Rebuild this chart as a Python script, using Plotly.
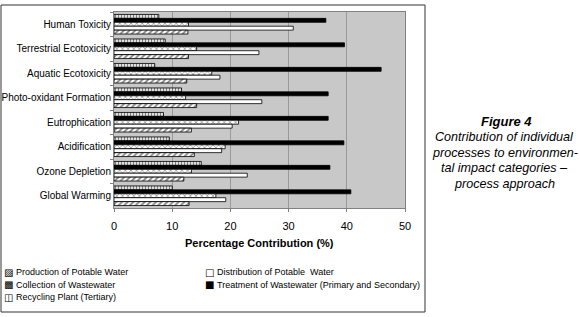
import plotly.graph_objects as go

categories = ["Human Toxicity", "Terrestrial Ecotoxicity", "Aquatic Ecotoxicity",
              "Photo-oxidant Formation", "Eutrophication", "Acidification",
              "Ozone Depletion", "Global Warming"]

series_names = ["Production of Potable Water", "Distribution of Potable  Water",
                "Collection of Wastewater", "Treatment of Wastewater (Primary and Secondary)",
                "Recycling Plant (Tertiary)"]

production = [12.7, 12.8, 12.5, 14.2, 13.3, 13.8, 12.0, 12.9]
distribution = [30.8, 24.9, 18.2, 25.4, 20.3, 18.5, 22.9, 19.2]
collection = [12.8, 14.2, 16.8, 12.3, 21.4, 19.1, 13.3, 17.5]
treatment = [36.4, 39.6, 45.9, 36.8, 36.8, 39.5, 37.1, 40.7]
recycling = [7.7, 8.8, 7.0, 11.6, 8.5, 9.5, 15.0, 10.0]

x_ticks = [0, 10, 20, 30, 40, 50]
x_title = "Percentage Contribution (%)"
caption_title = "Figure 4"
caption_lines = ["Contribution of individual", "processes to environmen-",
                 "tal impact categories –", "process approach"]
legend_glyphs = ["▨", "□", "▩", "■", "◫"]

FONT = "Liberation Sans, Arial, sans-serif"
W, H = 580, 317
L, R, T, B = 114, 175, 12, 109
PW, PH = W - L - R, H - T - B


def px(x):
    return (x - L) / PW


def py(y):
    return (H - B - y) / PH


styles = {
    0: dict(color="white", pattern=dict(shape="/", fgcolor="black", bgcolor="white", size=4, solidity=0.45)),
    1: dict(color="white"),
    2: dict(color="white", pattern=dict(shape="x", fgcolor="black", bgcolor="white", size=4, solidity=0.3)),
    3: dict(color="black"),
    4: dict(color="white", pattern=dict(shape="|", fgcolor="black", bgcolor="white", size=3, solidity=0.5)),
}
values = [production, distribution, collection, treatment, recycling]

fig = go.Figure()
# top-to-bottom within a group: Recycling, Treatment, Collection, Distribution, Production
for i in [4, 3, 2, 1, 0]:
    fig.add_trace(go.Bar(
        y=categories, x=values[i], orientation="h", name=series_names[i],
        marker=dict(line=dict(color="black", width=0.8), **styles[i]),
        showlegend=False, hoverinfo="x+y",
    ))

fig.update_layout(
    width=W, height=H, margin=dict(l=L, r=R, t=T, b=B, autoexpand=False),
    paper_bgcolor="white", plot_bgcolor="#c8c8c8",
    barmode="group", bargap=0.2, bargroupgap=0,
    font=dict(family=FONT, size=10, color="black"),
)
fig.update_xaxes(range=[0, 50], tickvals=x_ticks, showgrid=True, gridcolor="#9a9a9a", gridwidth=1,
                 zeroline=False, ticks="outside", ticklen=3, tickcolor="#808080",
                 showline=True, linecolor="#808080", mirror=True, automargin=False,
                 ticklabelstandoff=5,
                 tickfont=dict(size=11, family=FONT), fixedrange=True)
fig.update_yaxes(autorange="reversed", ticks="outside", ticklen=3, tickcolor="#808080",
                 tickson="boundaries", showline=True, linecolor="#808080", mirror=True,
                 automargin=False, tickfont=dict(size=10, family=FONT), fixedrange=True)

# outer frame
fig.add_shape(type="rect", xref="paper", yref="paper",
              x0=px(1), x1=px(425), y0=py(312), y1=py(5),
              line=dict(color="#333333", width=1), fillcolor="rgba(0,0,0,0)", layer="below")

# axis title
fig.add_annotation(text="<b>" + x_title + "</b>", xref="paper", yref="paper",
                   x=px(259), y=py(243), yanchor="middle", showarrow=False,
                   font=dict(size=11, family=FONT))

# caption
fig.add_annotation(text="<b>" + caption_title + "</b>", xref="paper", yref="paper",
                   x=px(506), y=py(121), showarrow=False, xanchor="center", yanchor="middle",
                   font=dict(size=13, family=FONT, style="italic"))
for j, (line, ly) in enumerate(zip(caption_lines, [137, 152.5, 168, 183.5])):
    fig.add_annotation(text=line, xref="paper", yref="paper", x=px(505), y=py(ly),
                       showarrow=False, xanchor="center", yanchor="middle",
                       font=dict(size=12.6, family=FONT, style="italic"))

# custom legend
legend_pos = [(8, 272), (209, 272), (8, 284.5), (209, 284.5), (8, 297)]
for i, (lx, ly) in enumerate(legend_pos):
    fig.add_annotation(text=legend_glyphs[i], xref="paper", yref="paper", x=px(lx), y=py(ly),
                       showarrow=False, xanchor="center", yanchor="middle",
                       font=dict(size=10, family="DejaVu Sans"))
    fig.add_annotation(text=series_names[i], xref="paper", yref="paper", x=px(lx + 6), y=py(ly),
                       showarrow=False, xanchor="left", yanchor="middle",
                       font=dict(size=9, family=FONT))

fig.write_html("out.html", config={"displayModeBar": False},
               post_script="document.body.style.margin='0';document.body.style.overflow='hidden';")
